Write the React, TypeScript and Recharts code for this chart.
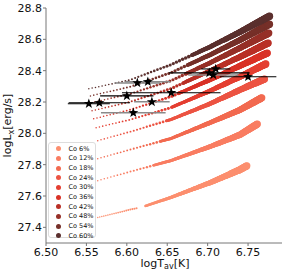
import { ComposedChart, Scatter, XAxis, YAxis } from 'recharts';

const xTicks = [6.5, 6.55, 6.6, 6.65, 6.7, 6.75];
const yTicks = [27.4, 27.6, 27.8, 28.0, 28.2, 28.4, 28.6, 28.8];

const seriesNames = ['Co 6%', 'Co 12%', 'Co 18%', 'Co 24%', 'Co 30%', 'Co 36%', 'Co 42%', 'Co 48%', 'Co 54%', 'Co 60%'];
const seriesColors = ['#fc8f6f', '#f97d62', '#f26a50', '#ec5443', '#e43f32', '#d93227', '#b93027', '#963028', '#763029', '#5b302e'];

// [logT, logL] read along each track (null = gap in the track)
const co6 = [[6.564, 27.462], [6.604, 27.513], [6.613, 27.523], [6.618, null], [6.623, 27.536], [6.654, 27.59], [6.703, 27.685], [6.74, 27.768], [6.749, 27.794]];
const co12 = [[6.564, 27.698], [6.604, 27.755], [6.654, 27.825], [6.703, 27.915], [6.74, 27.991], [6.762, 28.061]];
const co18 = [[6.564, 27.838], [6.604, 27.896], [6.654, 27.966], [6.703, 28.068], [6.74, 28.15], [6.767, 28.227]];
const co24 = [[6.564, 27.953], [6.604, 28.01], [6.654, 28.087], [6.703, 28.189], [6.74, 28.278], [6.771, 28.348]];
const co30 = [[6.562, 28.036], [6.604, 28.087], [6.654, 28.163], [6.703, 28.271], [6.74, 28.361], [6.772, 28.443]];
const co36 = [[6.559, 28.093], [6.604, 28.15], [6.654, 28.233], [6.703, 28.341], [6.74, 28.431], [6.774, 28.513]];
const co42 = [[6.557, 28.144], [6.604, 28.201], [6.654, 28.284], [6.703, 28.399], [6.74, 28.488], [6.775, 28.577]];
const co48 = [[6.556, 28.195], [6.604, 28.252], [6.654, 28.335], [6.703, 28.45], [6.74, 28.545], [6.776, 28.641]];
const co54 = [[6.555, 28.239], [6.604, 28.297], [6.654, 28.386], [6.703, 28.501], [6.74, 28.596], [6.777, 28.698]];
const co60 = [[6.553, 28.284], [6.604, 28.341], [6.654, 28.437], [6.703, 28.552], [6.74, 28.647], [6.777, 28.749]];
const tracks = [co6, co12, co18, co24, co30, co36, co42, co48, co54, co60];

// observed stars: logT, logL, logT error
const starT = [6.553, 6.566, 6.6, 6.613, 6.626, 6.608, 6.631, 6.655, 6.702, 6.71, 6.707, 6.75];
const starL = [28.189, 28.195, 28.239, 28.322, 28.329, 28.131, 28.201, 28.259, 28.386, 28.411, 28.373, 28.361];
const starErr = [0.026, 0.038, 0.033, 0.028, 0.028, 0.04, 0.022, 0.061, 0.05, 0.018, 0.031, 0.035];
const starGrey = [false, false, false, true, true, true, true, false, false, false, true, false];

// where along each track the dots merge into a solid band
const mergeAt = [0.3, 0.33, 0.36, 0.4, 0.44, 0.47, 0.5, 0.52, 0.54, 0.56];

const font = 'DejaVu Sans, sans-serif';

const toPts = (arr: any[]) => arr.map(([x, y]) => ({ x, y }));

const starPath = (cx: number, cy: number, R: number, r: number) => {
  let d = '';
  for (let i = 0; i < 10; i++) {
    const a = (-90 + i * 36) * Math.PI / 180;
    const rr = i % 2 ? r : R;
    d += (i ? 'L' : 'M') + (cx + rr * Math.cos(a)).toFixed(2) + ',' + (cy + rr * Math.sin(a)).toFixed(2);
  }
  return d + 'Z';
};

const Star = (p: any) => <path d={starPath(p.cx, p.cy, 5.3, 2.1)} fill="#000" />;
const NoMark = () => <g />;

// horizontal error bar through the two end points recharts places
const makeBar = (grey: boolean) => (props: any) => {
  const pts: any[] = props.points || [];
  if (pts.length < 2) return <g />;
  return (
    <path d={`M${pts[0].x},${pts[0].y}L${pts[1].x},${pts[1].y}`}
      stroke={grey ? '#8a8a8a' : '#000'} strokeWidth={grey ? 1.5 : 1.1} fill="none" />
  );
};

// draws the track as growing dots, through the pixel points recharts gives the scatter line
const makeTrail = (ci: number) => (props: any) => {
  const pts: any[] = props.points || [];
  const tr = tracks[ci];
  const nn = tr.map((p, i) => (p[1] == null ? -1 : i)).filter(i => i >= 0);
  const idx = pts.length === tr.length ? pts.map((_, i) => i) : nn;
  const runs: any[][] = [];
  let cur: any[] = [];
  pts.forEach((p, k) => {
    const i = idx[k];
    const bad = i == null || tr[i][1] == null || !isFinite(p.x) || !isFinite(p.y);
    const jump = k > 0 && idx[k - 1] != null && i - idx[k - 1] > 1;
    if (bad || jump) {
      if (cur.length) runs.push(cur);
      cur = [];
    }
    if (!bad) cur.push(p);
  });
  if (cur.length) runs.push(cur);
  const all = runs.flat();
  if (all.length < 2) return <g />;
  const x0 = all[0].x, x1 = all[all.length - 1].x;
  const tm = mergeAt[ci];
  const dotStep = ci === 0 ? 2.1 : 3.4;
  const circles: any[] = [];
  runs.forEach(run => {
    let pos = 0;
    for (let s = 0; s < run.length - 1; s++) {
      const a = run[s], b = run[s + 1];
      const len = Math.hypot(b.x - a.x, b.y - a.y);
      while (pos <= len) {
        const f = len ? pos / len : 0;
        const cx = a.x + (b.x - a.x) * f, cy = a.y + (b.y - a.y) * f;
        const t = (cx - x0) / (x1 - x0);
        const r = 0.75 + 2.85 * Math.pow(Math.max(t, 0), 1.6);
        circles.push(<circle key={circles.length} cx={cx} cy={cy} r={r} />);
        pos += t < tm ? dotStep : 0.6;
      }
      pos -= len;
    }
  });
  return <g fill={seriesColors[ci]}>{circles}</g>;
};

export default function App() {
  const stars = starT.map((x, i) => ({ x, y: starL[i] }));
  const bars = starT.map((x, i) => [{ x: x - starErr[i], y: starL[i] }, { x: x + starErr[i], y: starL[i] }]);

  return (
    <div style={{ position: 'absolute', left: 0, top: 0, width: 291, height: 275, background: '#fff' }}>
      <ComposedChart width={291} height={275} margin={{ top: 8, right: 9, bottom: 0, left: 0 }}>
        <XAxis dataKey="x" type="number" domain={[6.5, 6.792]} ticks={xTicks} allowDataOverflow
          tickFormatter={(v: number) => v.toFixed(2)} height={32} tickSize={3} tickMargin={2}
          stroke="#777" tick={{ fontSize: 11, fill: '#111', fontFamily: font }} />
        <XAxis xAxisId="top" orientation="top" dataKey="x" type="number" domain={[6.5, 6.792]} height={0}
          tick={false} tickLine={false} stroke="#bbb" strokeWidth={1.5} />
        <YAxis type="number" domain={[27.3, 28.8]} ticks={yTicks} allowDataOverflow width={46}
          tickFormatter={(v: number) => v.toFixed(1)} tickSize={3} tickMargin={1}
          stroke="#777" tick={{ fontSize: 11, fill: '#111', fontFamily: font }} />
        <YAxis yAxisId="right" orientation="right" type="number" domain={[27.3, 28.8]} width={0}
          tick={false} tickLine={false} stroke="#bbb" strokeWidth={1.5} />
        {tracks.map((tr, ci) => (
          <Scatter key={seriesNames[ci]} name={seriesNames[ci]} data={toPts(tr)} dataKey="y"
            shape={NoMark} line={makeTrail(ci)} isAnimationActive={false} />
        ))}
        {bars.map((b, i) => (
          <Scatter key={`bar-${i}`} data={b} dataKey="y" shape={NoMark} line={makeBar(starGrey[i])}
            isAnimationActive={false} />
        ))}
        <Scatter data={stars} dataKey="y" shape={Star} isAnimationActive={false} />
      </ComposedChart>

      <svg width={291} height={275} style={{ position: 'absolute', left: 0, top: 0, pointerEvents: 'none' }}>
        <text transform="translate(11,125.5) rotate(-90)" textAnchor="middle" fontSize={11} fontFamily={font} fill="#111">
          logL<tspan fontSize={8} dy={2.5}>x</tspan><tspan dy={-2.5}>[erg/s]</tspan>
        </text>
        <text x={165} y={266.5} textAnchor="middle" fontSize={11} fontFamily={font} fill="#111">
          logT<tspan fontSize={8} dy={2.5}>av</tspan><tspan dy={-2.5}>[K]</tspan>
        </text>
      </svg>

      <div style={{
        position: 'absolute', left: 48, top: 142, width: 48, height: 96, border: '1px solid #ddd',
        borderRadius: 3, background: 'rgba(255,255,255,0.85)', fontFamily: font, fontSize: 6.5, color: '#111',
        boxSizing: 'border-box', paddingTop: 1,
      }}>
        {seriesNames.map((n, i) => (
          <div key={n} style={{ display: 'flex', alignItems: 'center', height: 9.67, whiteSpace: 'nowrap' }}>
            <span style={{ display: 'inline-block', width: 5, height: 5, borderRadius: '50%', background: seriesColors[i], marginLeft: 6.5, marginRight: 8 }} />
            <span>{n}</span>
          </div>
        ))}
      </div>
    </div>
  );
}
